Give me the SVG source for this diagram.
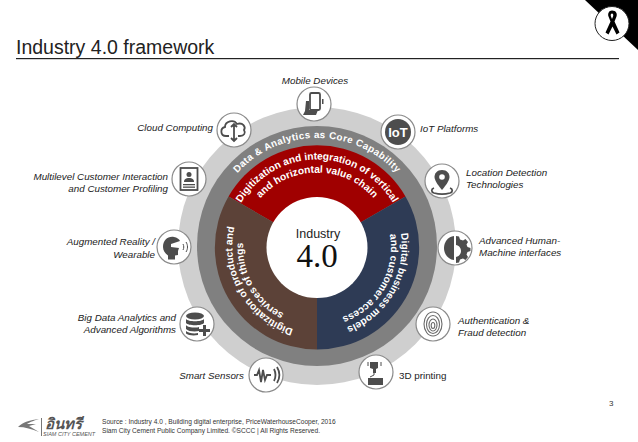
<svg xmlns="http://www.w3.org/2000/svg" width="638" height="442" viewBox="0 0 638 442">
<style>
.lb{font-family:"Liberation Sans",Arial,sans-serif;font-size:9.8px;font-style:italic;fill:#222}
.e{text-anchor:end}
.rt{font-family:"Liberation Sans",Arial,sans-serif;font-weight:bold;fill:#fff;text-anchor:middle;font-size:10.200px}
.nc{fill:#fff;stroke:#8a8a8a;stroke-width:1.2}
.ic{fill:#4d4d4d;stroke:none}
.il{fill:none;stroke:#4d4d4d;stroke-width:1.8}
.ft{font-family:"Liberation Sans",Arial,sans-serif;font-size:6.600px;fill:#333}
</style>
<defs>
<path id="pa0" d="M 209 246 A 108 108 0 0 1 425 246"/>
<path id="r1" d="M 229 247.500 A 88 88 0 0 1 405 247.500"/>
<path id="r2" d="M 242 247.500 A 75 75 0 0 1 392 247.500"/>
<path id="n1" d="M 360.500 172.200 A 87 87 0 0 1 273.500 322.800"/>
<path id="n2" d="M 354 183.400 A 74 74 0 0 1 280 311.600"/>
<path id="b1" d="M 360.500 322.800 A 87 87 0 0 1 273.500 172.200"/>
<path id="b2" d="M 354 311.600 A 74 74 0 0 1 280 183.400"/>
</defs>
<rect width="638" height="442" fill="#fff"/>
<g id="corner">
<polygon points="585,0 638,0 638,50" fill="#000"/>
<circle cx="612" cy="23.500" r="17" fill="#fff" stroke="#222" stroke-width="1"/>
<path d="M612 10.500c-3 0-4.500 3-3.500 6l2 5-5 11 3 2 4-8 4 8 3-2-5-11 2-5c1-3-.5-6-4.500-6zm0 3c1 0 1.500 1 1.200 2.500l-1.200 3-1.200-3c-.3-1.500.2-2.500 1.200-2.500z" fill="#000"/>
</g>
<g id="title">
<text x="16" y="53.500" font-family="Liberation Sans,Arial,sans-serif" font-size="19.500" fill="#222">Industry 4.0 framework</text>
<rect x="16" y="58" width="603" height="1.200" fill="#222"/>
</g>
<g id="wheel">
<circle cx="317" cy="246" r="139" fill="#cfcfcf"/>
<circle cx="317" cy="246" r="120" fill="#808080"/>
<path d="M317 247.500 L228.500 196.500 A102 102 0 0 1 405.500 196.500 Z" fill="#a00000"/>
<path d="M317 247.500 L405.500 196.500 A102 102 0 0 1 317 349.500 Z" fill="#2e3b55"/>
<path d="M317 247.500 L317 349.500 A102 102 0 0 1 228.500 196.500 Z" fill="#5c4238"/>
<circle cx="317" cy="247.500" r="50.500" fill="#fff"/>
<text class="rt" style="font-size:9.800px" letter-spacing=".4"><textPath href="#pa0" startOffset="50%">Data &amp; Analytics as Core Capability</textPath></text>
<text class="rt"><textPath href="#r1" startOffset="50%">Digitization and integration of vertical</textPath></text>
<text class="rt"><textPath href="#r2" startOffset="50%">and horizontal value chain</textPath></text>
<text class="rt"><textPath href="#n1" startOffset="50%">Digital business models</textPath></text>
<text class="rt"><textPath href="#n2" startOffset="50%">and customer access</textPath></text>
<text class="rt"><textPath href="#b1" startOffset="50%">Digitization of product and</textPath></text>
<text class="rt"><textPath href="#b2" startOffset="50%">services of things</textPath></text>
<text x="318" y="238" text-anchor="middle" font-family="Liberation Sans,Arial,sans-serif" font-size="12.500" fill="#222">Industry</text>
<text x="317" y="267" text-anchor="middle" font-family="Liberation Serif,serif" font-size="33" fill="#111">4.0</text>
</g>
<g id="connectors"></g>
<g id="n-mobile"><circle class="nc" cx="314" cy="104" r="17"/><rect class="il" x="310" y="93" width="10" height="17" rx="1.500"/><path class="ic" d="M303 115l2-4 1-10h3v9h9l-2 5z"/><rect class="ic" x="322" y="99" width="1.500" height="5"/></g>
<text class="lb" x="315" y="83.500" text-anchor="middle">Mobile Devices</text>
<g id="n-cloud"><circle class="nc" cx="234" cy="130" r="17"/><path class="il" d="M229 136h-3c-6 0-6-8-1-9 0-6 9-8 12-3 6-2 9 3 7 6 2 3 0 6-4 6h-2M234 124v17M231 127l3-3 3 3M231 138l3 3 3-3"/></g>
<text class="lb e" x="213" y="130.500">Cloud Computing</text>
<g id="n-iot"><circle class="nc" cx="398" cy="132" r="17"/><circle class="ic" cx="398" cy="132" r="13"/><text x="398" y="137" text-anchor="middle" font-family="Liberation Sans,Arial,sans-serif" font-weight="bold" font-size="13" fill="#fff">IoT</text></g>
<text class="lb" x="420" y="131.500">IoT Platforms</text>
<g id="n-location"><circle class="nc" cx="442" cy="181" r="17"/><path class="ic" d="M442 170c-5 0-7.500 3.500-7.500 7 0 4 5 10 7.500 13 2.500-3 7.500-9 7.500-13 0-3.500-2.500-7-7.500-7z"/><circle cx="442" cy="177" r="2.800" fill="#fff"/><path class="il" d="M434 188c-3 1-3 4 0 5 5 1.500 11 1.500 16 0 3-1 3-4 0-5"/></g>
<text class="lb" x="466" y="175.500">Location Detection</text><text class="lb" x="466" y="188">Technologies</text>
<g id="n-profile"><circle class="nc" cx="189" cy="179" r="17"/><rect class="il" x="180.500" y="168" width="17" height="22"/><circle class="ic" cx="189" cy="174.500" r="2.500"/><path class="ic" d="M184 182c0-3 2-4 5-4s5 1 5 4z"/><rect class="ic" x="183" y="184" width="12" height="1.300"/><rect class="ic" x="183" y="186.500" width="12" height="1.300"/></g>
<text class="lb e" x="168" y="180">Multilevel Customer Interaction</text><text class="lb e" x="168" y="192">and Customer Profiling</text>
<g id="n-ar"><circle class="nc" cx="174" cy="247" r="17"/><path class="ic" d="M163 247c0-7 5-11 11-10 3 .5 5 2 6 4l-9 3v3l8 1-1 3v4l-3 .5v4h-7v-4c-3-2-5-5-5-8.500z"/><path class="il" style="stroke-width:1" d="M183 244c1 2 1 4 0 6M186 242c2 3 2 7 0 10"/></g>
<text class="lb e" x="155" y="245">Augmented Reality /</text><text class="lb e" x="155" y="258">Wearable</text>
<g id="n-hmi"><circle class="nc" cx="455" cy="248" r="17"/><path class="ic" d="M454 236c-6 .5-10 6-10 12s4 11.500 10 12z"/><path class="ic" d="M456 236l3 .5 1 3 3 1 2.500-1.500 2.500 3-1.500 2.500 1 2.500 3 1v3l-3 1-1 2.500 1.500 2.500-2.500 3-2.500-1.500-3 1-1 3-3 .5v-6c3-.5 5-3 5-6s-2-5.500-5-6z"/></g>
<text class="lb" x="479" y="244">Advanced Human-</text><text class="lb" x="479" y="255.500">Machine interfaces</text>
<g id="n-bigdata"><circle class="nc" cx="197" cy="324" r="17"/><ellipse class="ic" cx="195" cy="316" rx="9" ry="3.500"/><path class="ic" d="M186 319c2 3 16 3 18 0v4c-2 3-16 3-18 0zM186 325c2 3 11 3 13 2v4c-4 1-11 .5-13-2zM186 331c2 2 8 3 12 2v2c-4 1-10 .5-12-1.500z"/><path class="ic" d="M203 325h3v4h4v3h-4v4h-3v-4h-4v-3h4z"/></g>
<text class="lb e" x="176" y="321">Big Data Analytics and</text><text class="lb e" x="176" y="333">Advanced Algorithms</text>
<g id="n-auth"><circle class="nc" cx="433" cy="324" r="17"/><g fill="none" stroke="#6a6a6a" stroke-width="1.100"><ellipse cx="433" cy="324" rx="9" ry="12"/><ellipse cx="433" cy="324.500" rx="6.500" ry="9"/><ellipse cx="433" cy="325" rx="4" ry="6"/><ellipse cx="433" cy="325.500" rx="1.800" ry="3"/></g></g>
<text class="lb" x="458" y="324">Authentication &amp;</text><text class="lb" x="458" y="336">Fraud detection</text>
<g id="n-sensors"><circle class="nc" cx="266" cy="375" r="17"/><path class="il" d="M254 375h3l2-5 2 12 2-12 2 10 2-5h4M274 369c2 4 2 8 0 12M277 367c3 5 3 11 0 16"/></g>
<text class="lb e" x="244" y="378.500">Smart Sensors</text>
<g id="n-3d"><circle class="nc" cx="376" cy="372" r="17"/><path class="ic" d="M370 362h8v6l-2 1v4h-3v-4l-3-1z"/><path class="il" style="stroke-width:1" d="M368 362v4M381 362v4M374 373v2l-4 2"/><rect class="ic" x="368" y="378" width="15" height="7"/></g>
<text class="lb" x="399" y="378.500" style="font-style:normal">3D printing</text>
<g id="footer">
<path d="M18 427c5-5 12-7 21-8-6 2-9 3-12 5l9 0-7 2 10 6c-7-3-14-5-21-5z" fill="#777"/>
<rect x="41" y="418" width="1" height="18" fill="#777"/>
<text x="45" y="429" font-family="Noto Sans,DejaVu Sans,sans-serif" font-weight="bold" font-style="italic" font-size="15" fill="#555">อินทรี</text>
<text x="43" y="436" font-family="Liberation Sans,Arial,sans-serif" font-style="italic" font-size="5.500" fill="#555">SIAM CITY CEMENT</text>
<text class="ft" x="102" y="423.500">Source : Industry 4.0 , Building digital enterprise, PriceWaterhouseCooper, 2016</text>
<text class="ft" x="102" y="432.500">Siam City Cement Public Company Limited. ©SCCC | All Rights Reserved.</text>
<text x="609" y="406" font-family="Liberation Sans,Arial,sans-serif" font-size="8" fill="#333">3</text>
</g>
</svg>
